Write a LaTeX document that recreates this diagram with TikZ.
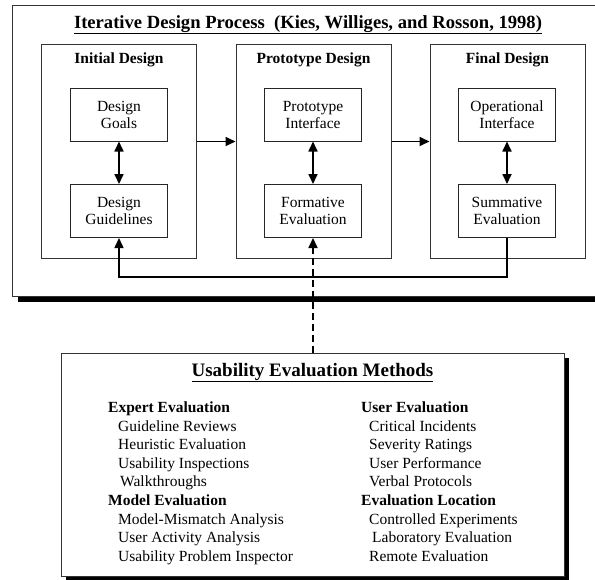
\documentclass[tikz,border=0pt]{standalone}
\usepackage{fontspec}
\setmainfont{Liberation Serif}
\usetikzlibrary{arrows.meta,shadows}

\tikzset{
  frame/.style={draw=black!80, line width=1pt, fill=white, inner sep=0pt},
  stage/.style={draw=black!80, line width=1pt, minimum width=155pt, minimum height=214pt, inner sep=0pt},
  part/.style={draw=black!85, line width=1pt, minimum width=97pt, minimum height=53pt, align=center, inner sep=0pt, font=\fontsize{15.5}{17}\selectfont},
  stagehead/.style={font=\bfseries\fontsize{15.5}{17}\selectfont, inner sep=0pt, anchor=base},
  bigtitle/.style={font=\bfseries\fontsize{18.6}{20}\selectfont, inner sep=0pt, anchor=base},
  methodlist/.style={font=\fontsize{15.5}{18.6}\selectfont, align=left, inner sep=0pt, anchor=north west},
  flow/.style={line width=1.7pt, -{Triangle[length=10pt,width=9pt]}},
  both/.style={line width=1.7pt, {Triangle[length=10pt,width=9pt]}-{Triangle[length=10pt,width=9pt]}},
}

\begin{document}
\begin{tikzpicture}[x=1pt,y=-1pt]
\useasboundingbox (0,0) rectangle (595,579);
\clip (0,0) rectangle (595,579);

% upper panel
\node[frame, minimum width=590pt, minimum height=291pt,
  drop shadow={shadow xshift=6pt, shadow yshift=-6pt, opacity=1, fill=black}] (process) at (307,150.5) {};
\node[bigtitle] (title) at (308,28) {\underline{Iterative Design Process\ \ (Kies, Williges, and Rosson, 1998)}};

\node[stage] (initial) at (119,151) {};
\node[stage] (prototype) at (313.5,151) {};
\node[stage] (final) at (507.5,151) {};
\node[stagehead] (initial-head) at (119,63) {Initial Design};
\node[stagehead] (prototype-head) at (313.5,63) {Prototype Design};
\node[stagehead] (final-head) at (507.5,63) {Final Design};

\node[part] (goals) at (119,114.5) {Design\\Goals};
\node[part] (guidelines) at (119,211) {Design\\Guidelines};
\node[part] (interface) at (313,114.5) {Prototype\\Interface};
\node[part] (formative) at (313,211) {Formative\\Evaluation};
\node[part] (operational) at (507,114.5) {Operational\\Interface};
\node[part] (summative) at (507,211) {Summative\\Evaluation};

\draw[both] (goals) -- (guidelines);
\draw[both] (interface) -- (formative);
\draw[both] (operational) -- (summative);
\draw[flow] (initial.east |- goals.south) -- (prototype.west |- goals.south);
\draw[flow] (prototype.east |- goals.south) -- (final.west |- goals.south);

\coordinate (back) at (0,277);
\draw[flow, line width=1.5pt] (summative.south) -- (summative.south |- back) -| (guidelines.south);

% lower panel
\node[frame, minimum width=503pt, minimum height=223pt,
  drop shadow={shadow xshift=5pt, shadow yshift=-5pt, opacity=1, fill=black}] (methods) at (312.5,464.5) {};
\node[bigtitle, font=\bfseries\fontsize{19}{20}\selectfont] (methods-title) at (312.5,376) {\underline{Usability Evaluation Methods}};

\draw[flow, dash pattern=on 7pt off 4pt] (methods.north -| formative.south) -- (formative.south);

\node[methodlist] (expert-col) at (108,401.5) {\textbf{Expert Evaluation}\\
\hspace*{10pt}Guideline Reviews\\
\hspace*{10pt}Heuristic Evaluation\\
\hspace*{10pt}Usability Inspections\\
\hspace*{12pt}Walkthroughs\\
\textbf{Model Evaluation}\\
\hspace*{10pt}Model-Mismatch Analysis\\
\hspace*{10pt}User Activity Analysis\\
\hspace*{10pt}Usability Problem Inspector};

\node[methodlist] (user-col) at (361,401.5) {\textbf{User Evaluation}\\
\hspace*{8pt}Critical Incidents\\
\hspace*{8pt}Severity Ratings\\
\hspace*{8pt}User Performance\\
\hspace*{8pt}Verbal Protocols\\
\textbf{Evaluation Location}\\
\hspace*{8pt}Controlled Experiments\\
\hspace*{11pt}Laboratory Evaluation\\
\hspace*{8pt}Remote Evaluation};
\end{tikzpicture}
\end{document}
